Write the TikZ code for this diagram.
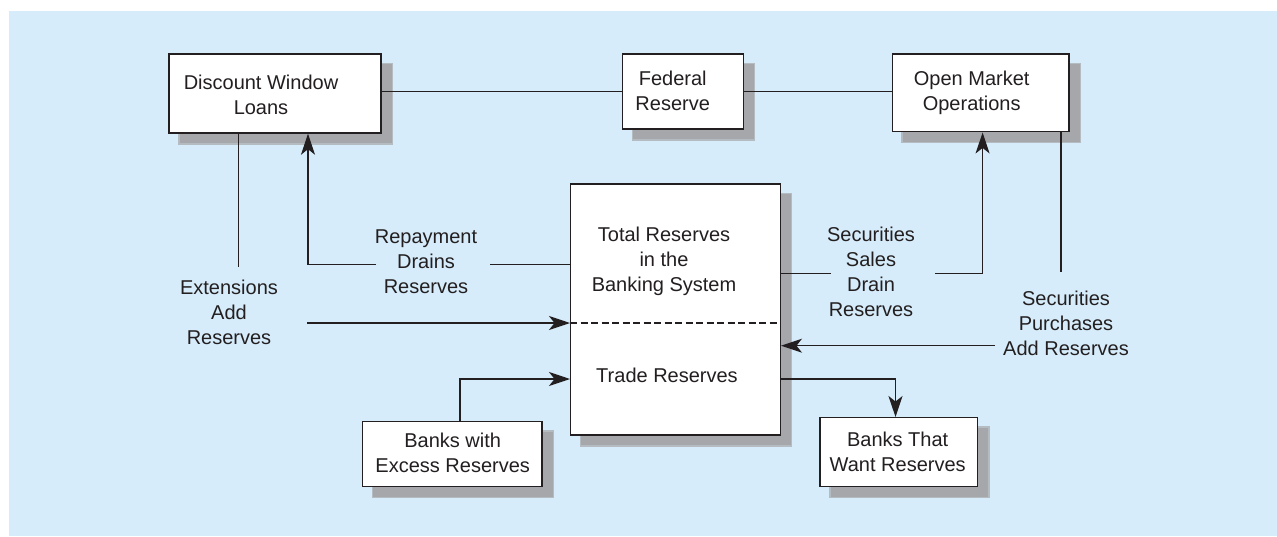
\documentclass[tikz,border=0pt]{standalone}
\usepackage{fontspec}
\setmainfont{Liberation Sans}
\usetikzlibrary{arrows.meta,calc}
\definecolor{bgblue}{RGB}{214,236,250}
\definecolor{shadowc}{RGB}{165,167,170}
\definecolor{ink}{RGB}{35,31,32}
\newcommand\mlines[1]{\begin{tabular}[t]{@{}c@{}}#1\end{tabular}}
\begin{document}
\begin{tikzpicture}[x=1pt, y=-1pt,
  font=\fontsize{20}{25.3}\selectfont,
  shadowed/.style={
    preaction={fill=shadowc!70!bgblue, draw=shadowc!70!bgblue, line width=3pt, rounded corners=2.5pt,
               transform canvas={shift={(10.5pt,-10pt)}}},
    preaction={fill=shadowc, rounded corners=2pt, transform canvas={shift={(10.5pt,-10pt)}}}},
  box/.style={shadowed, draw=ink, line width=1.4pt, fill=white, inner sep=0pt},
  lbl/.style={inner sep=0pt, anchor=base, text=ink},
  conn/.style={draw=ink, line width=1.3pt},
  arr/.style={conn, -{Stealth[length=21pt,width=14pt,inset=5.5pt]}}]
\useasboundingbox (0,0) rectangle (1277,536);
\fill[white] (0,0) rectangle (1277,536);
\fill[bgblue] (9,11) rectangle (1277,536);

% boxes
\node[box, minimum width=212pt, minimum height=79pt] (dwl) at (275,93.5) {};
\node[box, minimum width=120.6pt, minimum height=75pt] (fed) at (683,91.5) {};
\node[box, minimum width=176.7pt, minimum height=77.7pt] (omo) at (980.7,92.9) {};
\node[box, minimum width=209.6pt, minimum height=251pt] (tr) at (675.5,309.5) {};
\node[box, minimum width=179.3pt, minimum height=65pt] (bw) at (452.4,454.2) {};
\node[box, minimum width=157.7pt, minimum height=69pt] (bt) at (898.9,452.2) {};

% texts
\node[lbl] (dwlt) at (261,89) {\mlines{Discount Window\\Loans}};
\node[lbl] (fedt) at (672.7,85) {\mlines{Federal\\Reserve}};
\node[lbl] (omot) at (971.7,85) {\mlines{Open Market\\Operations}};
\node[lbl] (trt) at (664,241) {\mlines{Total Reserves\\in the\\Banking System}};
\node[lbl] (trd) at (667,382) {\mlines{Trade Reserves}};
\node[lbl] (btt) at (897.7,446) {\mlines{Banks That\\Want Reserves}};
\node[lbl] (bwt) at (452.7,447) {\mlines{Banks with\\Excess Reserves}};
\node[lbl] (rept) at (426,243) {\mlines{Repayment\\Drains\\Reserves}};
\node[lbl] (extt) at (229,294) {\mlines{Extensions\\Add\\Reserves}};
\node[lbl] (salt) at (871,241) {\mlines{Securities\\Sales\\Drain\\Reserves}};
\node[lbl] (purt) at (1066,305) {\mlines{Securities\\Purchases\\Add Reserves}};

% free ends
\coordinate (extTop) at (238.7,267);
\coordinate (extStart) at (307,323);
\coordinate (repGapR) at (490,264.3);
\coordinate (repGapL) at (376,264.3);
\coordinate (repCorner) at (308,264.3);
\coordinate (salGapL) at (830.7,273.7);
\coordinate (salGapR) at (935,273.7);
\coordinate (salCorner) at (982.6,273.7);
\coordinate (purTop) at (1061,272);
\coordinate (purStart) at (995,345.7);
\coordinate (bwCorner) at (460,379);
\coordinate (btCorner) at (895.5,379);

% connectors
\draw[conn] (fed.west) -- (fed.west -| dwl.east);
\draw[conn] (fed.east) -- (fed.east -| omo.west);
\draw[conn] (extTop |- dwl.south) -- (extTop);
\draw[arr] (extStart) -- (extStart -| tr.west);
\draw[conn] (repGapR -| tr.west) -- (repGapR);
\draw[arr] (repGapL) -- (repCorner) -- (repCorner |- dwl.south);
\draw[conn] (salGapL -| tr.east) -- (salGapL);
\draw[arr] (salGapR) -- (salCorner) -- (salCorner |- omo.south);
\draw[conn] (purTop |- omo.south) -- (purTop);
\draw[arr] (purStart) -- (purStart -| tr.east);
\draw[arr] (bwCorner |- bw.north) -- (bwCorner) -- (bwCorner -| tr.west);
\draw[arr] (btCorner -| tr.east) -- (btCorner) -- (btCorner |- bt.north);
\draw[conn, dash pattern=on 7pt off 3.5pt] (extStart -| tr.west) -- (extStart -| tr.east);
\end{tikzpicture}
\end{document}
